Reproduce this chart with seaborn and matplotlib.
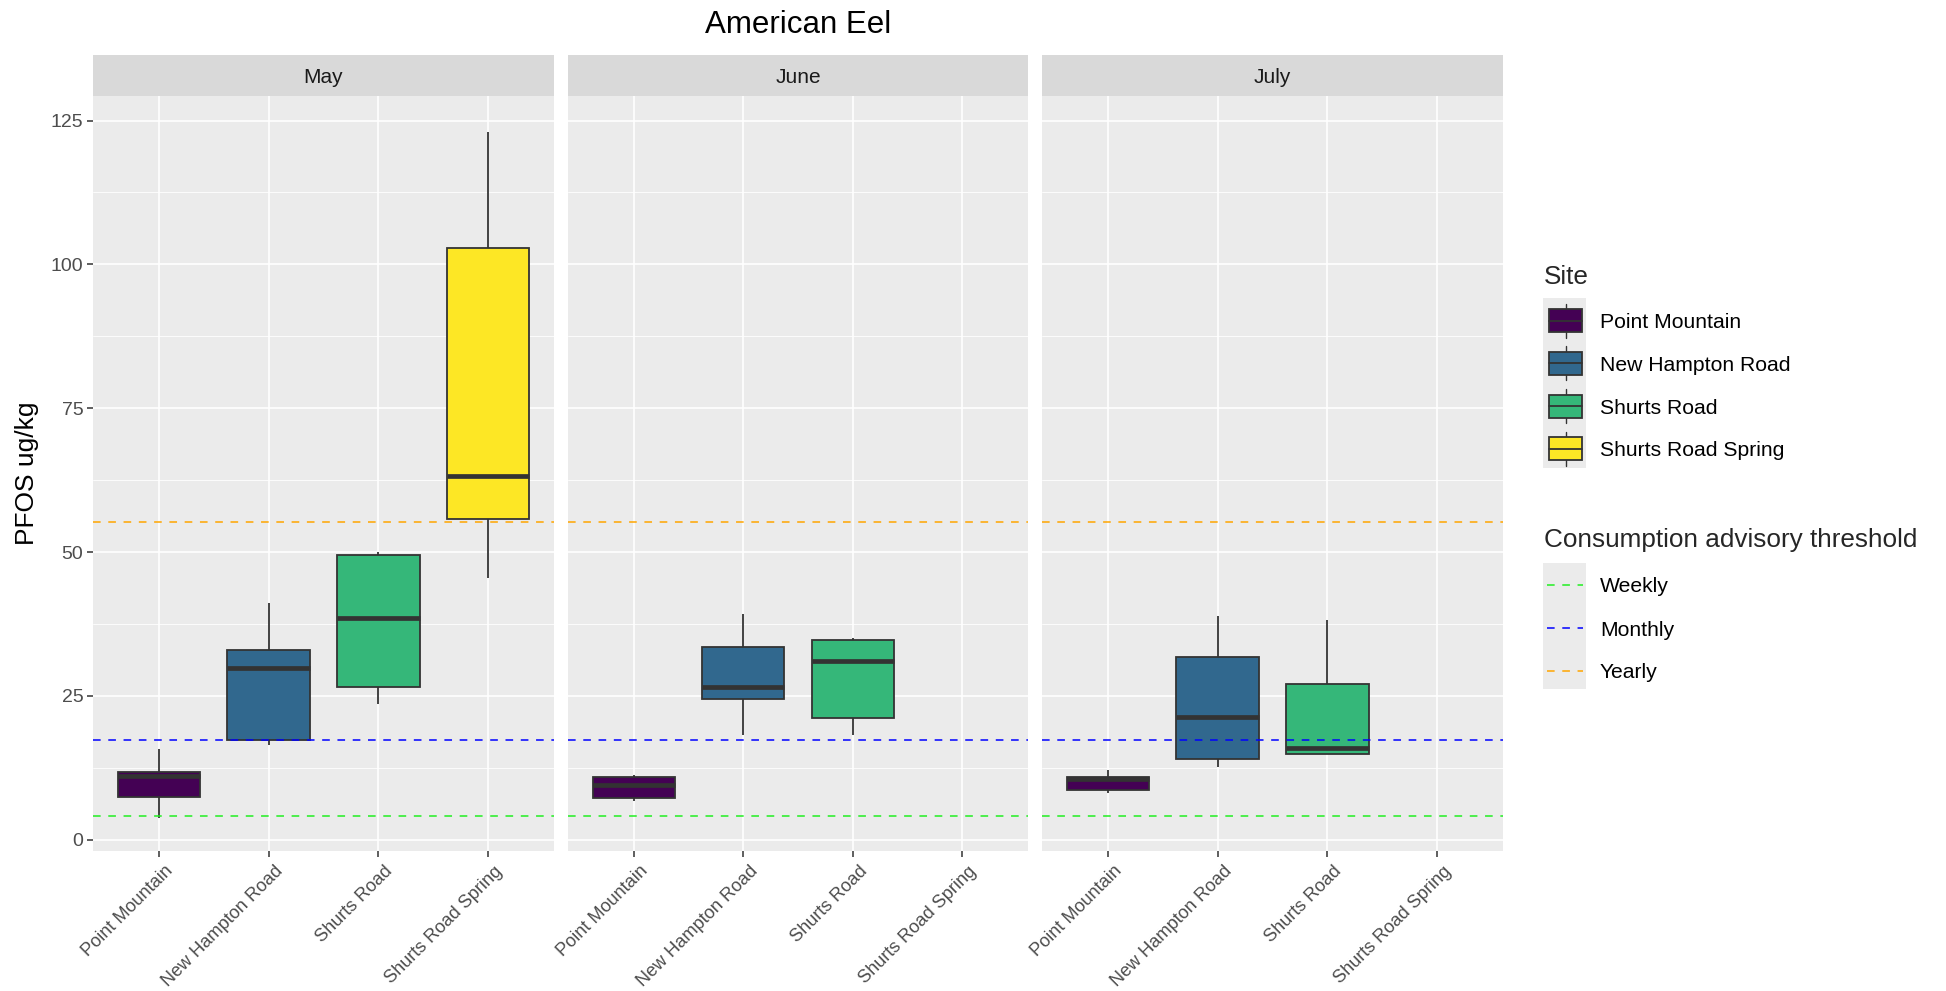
import numpy as np
import pandas as pd
import matplotlib
matplotlib.use("Agg")
import matplotlib.pyplot as plt
import matplotlib.transforms as mtransforms
import seaborn as sns
from matplotlib.patches import Rectangle
from matplotlib.lines import Line2D

# ---------------- data (five-number summaries) ----------------
months = ["May", "June", "July"]
sites = ["Point Mountain", "New Hampton Road", "Shurts Road", "Shurts Road Spring"]
site_colors = ["#440154", "#31688E", "#35B779", "#FDE725"]

# each list: min, lower quartile, median, upper quartile, max
may_point_mountain = [3.8, 7.5, 11.1, 11.8, 15.7]
may_new_hampton = [16.5, 17.3, 29.8, 32.9, 41.2]
may_shurts = [23.6, 26.5, 38.6, 49.5, 50.0]
may_shurts_spring = [45.5, 55.7, 63.2, 102.9, 123.0]

june_point_mountain = [6.8, 7.3, 9.5, 10.9, 11.2]
june_new_hampton = [18.2, 24.4, 26.5, 33.5, 39.3]
june_shurts = [18.2, 21.1, 31.1, 34.7, 35.0]

july_point_mountain = [8.2, 8.7, 10.5, 10.9, 12.1]
july_new_hampton = [12.7, 14.1, 21.4, 31.8, 38.9]
july_shurts = [14.9, 14.9, 15.9, 27.0, 38.2]

threshold_labels = ["Weekly", "Monthly", "Yearly"]
threshold_values = [4.1, 17.3, 55.2]
threshold_colors = ["#22EE22", "#0000FF", "#FFA500"]

records = []
for month, site, vals in [
    ("May", sites[0], may_point_mountain),
    ("May", sites[1], may_new_hampton),
    ("May", sites[2], may_shurts),
    ("May", sites[3], may_shurts_spring),
    ("June", sites[0], june_point_mountain),
    ("June", sites[1], june_new_hampton),
    ("June", sites[2], june_shurts),
    ("July", sites[0], july_point_mountain),
    ("July", sites[1], july_new_hampton),
    ("July", sites[2], july_shurts),
]:
    for v in vals:
        records.append({"month": month, "site": site, "value": v})
df = pd.DataFrame(records)

# ---------------- figure ----------------
sns.set_theme(style="white")
plt.rcParams["font.family"] = ["Liberation Sans", "DejaVu Sans"]

W, H = 1946, 991
fig = plt.figure(figsize=(W / 100, H / 100), dpi=100)
fig.patch.set_facecolor("white")


def fr(x0, y0, x1, y1):
    return [x0 / W, 1 - y1 / H, (x1 - x0) / W, (y1 - y0) / H]


panel_x = [(93, 554), (568, 1028), (1042, 1503)]
top_px, bot_px = 96, 851
strip_top = 55
ylim = (-1.96, 129.27)
edge = "#333333"

for i, (month, (x0, x1)) in enumerate(zip(months, panel_x)):
    ax = fig.add_axes(fr(x0, top_px, x1, bot_px))
    sub = df[df["month"] == month]
    sns.boxplot(
        data=sub, x="site", y="value", hue="site",
        order=sites, hue_order=sites, palette=site_colors,
        saturation=1, width=0.75, whis=(0, 100),
        linecolor=edge, linewidth=1.3,
        showcaps=False, showfliers=False,
        medianprops=dict(linewidth=3.4, color=edge),
        legend=False, ax=ax,
    )
    for val, col in zip(threshold_values, threshold_colors):
        ax.axhline(val, color=col, lw=1.1, linestyle=(0, (5, 5)), zorder=5)

    ax.set_facecolor("#EBEBEB")
    for s in ax.spines.values():
        s.set_visible(False)
    ax.set_xlim(-0.6, 3.6)
    ax.set_ylim(*ylim)
    ax.set_yticks([0, 25, 50, 75, 100, 125])
    ax.set_yticks([12.5, 37.5, 62.5, 87.5, 112.5], minor=True)
    ax.set_axisbelow(True)
    ax.grid(which="major", color="white", lw=1.2)
    ax.grid(which="minor", axis="y", color="white", lw=0.6)
    ax.tick_params(axis="y", which="minor", length=0)
    ax.set_xticks(range(len(sites)))
    ax.tick_params(axis="x", length=4, width=1.1, color=edge, pad=4, bottom=True)
    ax.set_xlabel("")
    ax.set_ylabel("")
    if i == 0:
        ax.tick_params(axis="y", which="major", length=4, width=1.1, color=edge,
                       labelsize=14, labelcolor="#4D4D4D", pad=3, left=True)
    else:
        ax.tick_params(axis="y", which="both", left=False, labelleft=False)
    ax.set_xticklabels(sites, rotation=45, ha="right", va="top",
                       rotation_mode="anchor", fontsize=13.1, color="#4D4D4D")
    shift = mtransforms.ScaledTranslation(0.06, -0.005, fig.dpi_scale_trans)
    for lab in ax.get_xticklabels():
        lab.set_transform(lab.get_transform() + shift)

    sax = fig.add_axes(fr(x0, strip_top, x1, top_px))
    sax.set_facecolor("#D9D9D9")
    sax.set_xticks([])
    sax.set_yticks([])
    for s in sax.spines.values():
        s.set_visible(False)
    sax.text(0.5, 0.45, month, ha="center", va="center", fontsize=15,
             color="#1A1A1A", transform=sax.transAxes)

fig.text(798 / W, 1 - 25 / H, "American Eel", ha="center", va="center",
         fontsize=22.5, color="black")
fig.text(27 / W, 1 - 473 / H, "PFOS ug/kg", ha="center", va="center",
         rotation=90, fontsize=19, color="black")

# ---------------- legends ----------------
lax = fig.add_axes([0, 0, 1, 1])
lax.set_xlim(0, W)
lax.set_ylim(H, 0)
lax.axis("off")
lax.patch.set_visible(False)

lax.text(1544, 274, "Site", ha="left", va="center_baseline", fontsize=18.8)
lax.add_patch(Rectangle((1543, 298), 43, 170, fc="#EBEBEB", ec="none"))
for k, (site, col) in enumerate(zip(sites, site_colors)):
    cy = 320.5 + k * 42.8
    lax.add_line(Line2D([1566, 1566], [cy - 17, cy + 17], color=edge, lw=1.0))
    lax.add_patch(Rectangle((1549, cy - 11.5), 33, 23, fc=col, ec=edge, lw=1.3, zorder=3))
    lax.add_line(Line2D([1549, 1582], [cy, cy], color=edge, lw=1.3, zorder=4))
    lax.text(1600, cy, site, ha="left", va="center_baseline", fontsize=15.2, color="black")

lax.text(1544, 538, "Consumption advisory threshold", ha="left",
         va="center_baseline", fontsize=18.8)
lax.add_patch(Rectangle((1543, 563), 43, 126, fc="#EBEBEB", ec="none"))
for k, (lab, col) in enumerate(zip(threshold_labels, threshold_colors)):
    cy = 585 + k * 43
    lax.add_line(Line2D([1547, 1583], [cy, cy], color=col, lw=1.1,
                        linestyle=(0, (5, 5))))
    lax.text(1600, cy, lab, ha="left", va="center_baseline", fontsize=15.2, color="black")

fig.savefig("out.png", dpi=100)
